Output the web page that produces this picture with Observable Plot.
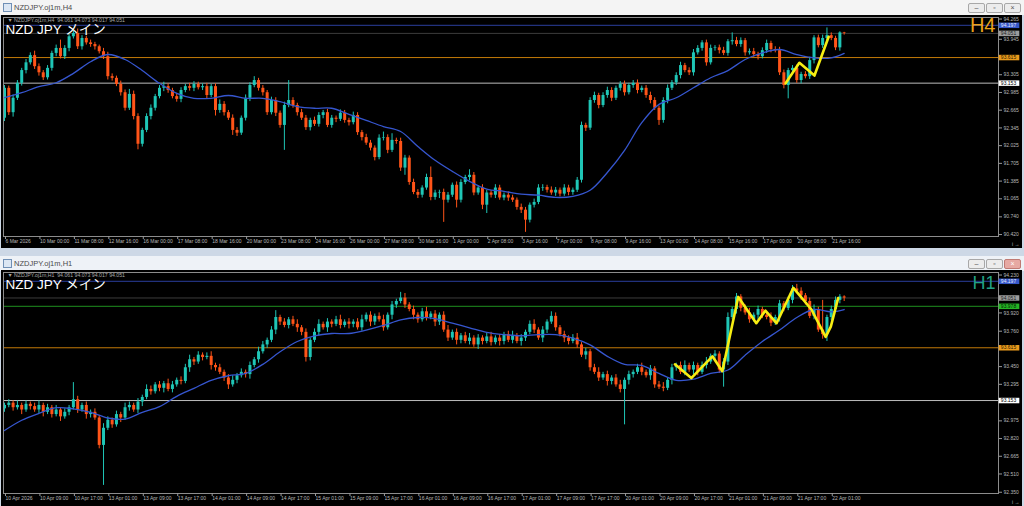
<!DOCTYPE html>
<html><head><meta charset="utf-8">
<script src="https://cdn.jsdelivr.net/npm/d3@7"></script>
<script src="https://cdn.jsdelivr.net/npm/@observablehq/plot@0.6"></script>
<style>
body{margin:0;background:#cdd8e6;}
#root{position:relative;width:1024px;height:506px;overflow:hidden;background:#cdd8e6;font-family:"Liberation Sans",Arial,sans-serif;}
.tbar{position:absolute;left:0;width:1024px;height:15px;}
.ttl{position:absolute;left:14px;top:3px;font-size:7.5px;color:#4a4a4a;white-space:nowrap;}
.ico{position:absolute;left:3px;top:3px;width:7px;height:7px;border:1px solid #6f8fb5;background:#dbe6f3;}
.btn{position:absolute;top:3px;width:15px;height:8px;border:1px solid #a8a8a8;border-radius:2px;background:#ececec;font-size:7px;line-height:8px;text-align:center;color:#555;}
.chart{position:absolute;left:1px;width:1021px;background:#000;}
</style></head>
<body><div id="root">
<div class="tbar" style="top:0;background:#f4f4f4;"><div class="ico"></div><div class="ttl">NZDJPY.oj1m,H4</div>
<div class="btn" style="left:968px">–</div><div class="btn" style="left:986px">▫</div><div class="btn" style="left:1004px">×</div></div>
<div class="chart" id="top" style="top:15px;height:233px;"></div>
<div class="tbar" style="top:256px;background:#eef2f7;"><div class="ico"></div><div class="ttl">NZDJPY.oj1m,H1</div>
<div class="btn" style="left:968px">–</div><div class="btn" style="left:986px">▫</div><div class="btn" style="left:1004px;background:#e7a9a3;border-color:#c07a74;color:#fff">×</div></div>
<div class="chart" id="bot" style="top:270px;height:236px;"></div>
</div>
<script>
// ---------- H4 panel data ----------
const h4Open0 = 92.52;
const h4Close = [
93.06,92.62,92.88,93.15,93.38,93.52,93.65,93.45,93.34,93.25,
93.42,93.69,93.78,93.63,93.78,93.99,94.05,93.81,93.96,93.88,
93.85,93.81,93.72,93.63,93.27,93.24,93.13,92.98,92.70,92.95,
92.55,92.05,92.30,92.55,92.70,92.91,93.06,93.09,93.02,92.91,
92.86,93.02,93.09,93.06,93.13,93.07,93.09,92.93,93.09,92.66,
92.77,92.62,92.52,92.30,92.25,92.52,92.88,93.11,93.20,93.06,
92.98,92.62,92.84,92.61,92.39,92.75,92.84,92.75,92.62,92.52,
92.35,92.48,92.41,92.57,92.62,92.39,92.52,92.50,92.61,92.48,
92.44,92.57,92.26,92.17,92.07,91.98,91.81,92.16,92.17,91.94,
92.12,92.10,91.62,91.80,91.36,91.18,91.13,91.26,91.45,91.09,
91.17,91.18,91.04,91.13,91.31,91.04,91.36,91.45,91.49,91.17,
91.26,90.95,91.17,91.13,91.26,91.08,91.13,91.08,91.04,90.91,
90.86,90.68,90.95,91.00,91.26,91.27,91.22,91.17,91.22,91.15,
91.26,91.18,91.22,91.40,92.39,92.34,92.84,92.93,92.75,92.93,
93.02,92.88,93.06,93.13,92.98,93.11,93.15,93.02,93.06,92.93,
92.84,92.70,92.48,92.84,93.06,93.16,93.29,93.47,93.38,93.34,
93.70,93.78,93.88,93.52,93.78,93.79,93.74,93.69,93.90,93.92,
93.85,93.92,93.70,93.72,93.67,93.63,93.74,93.87,93.76,93.74,
93.34,93.11,93.38,93.42,93.20,93.31,93.27,93.56,93.97,93.83,
93.96,94.01,93.96,93.79,94.06,94.05];
const h4UpperWick = [
.05,.04,.06,.05,.04,.06,.05,.08,.05,.04,
.05,.04,.06,.15,.05,.04,.04,.08,.05,.04,
.05,.04,.03,.06,.08,.05,.04,.06,.05,.09,
.06,.05,.04,.05,.06,.04,.05,.08,.05,.04,
.06,.05,.04,.06,.05,.04,.05,.06,.04,.05,
.08,.05,.04,.06,.05,.04,.06,.05,.07,.04,
.05,.04,.06,.05,.04,.06,.36,.05,.04,.06,
.05,.04,.06,.05,.04,.06,.05,.04,.06,.05,
.04,.06,.05,.04,.06,.05,.04,.06,.10,.05,
.12,.04,.06,.05,.04,.06,.05,.04,.06,.19,
.05,.04,.06,.05,.04,.06,.05,.04,.10,.05,
.04,.06,.05,.04,.06,.05,.04,.06,.05,.04,
.06,.05,.04,.06,.06,.05,.04,.06,.05,.04,
.06,.05,.04,.05,.06,.04,.05,.06,.04,.05,
.06,.05,.04,.05,.06,.04,.05,.06,.04,.05,
.06,.05,.04,.05,.06,.04,.05,.06,.04,.05,
.06,.05,.04,.05,.06,.04,.05,.06,.04,.14,
.06,.05,.04,.05,.06,.04,.05,.06,.04,.05,
.06,.05,.04,.05,.06,.04,.05,.06,.04,.05,
.06,.14,.05,.04,.02,.01];
const h4LowerWick = [
.06,.05,.08,.04,.05,.06,.04,.05,.06,.05,
.04,.05,.06,.04,.05,.06,.04,.05,.06,.04,
.05,.06,.04,.05,.06,.05,.04,.06,.05,.04,
.06,.10,.05,.04,.06,.05,.04,.06,.05,.04,
.05,.06,.04,.05,.06,.04,.05,.06,.04,.10,
.05,.06,.04,.09,.06,.04,.05,.06,.04,.05,
.06,.05,.04,.06,.05,.45,.04,.05,.06,.04,
.05,.06,.04,.05,.06,.04,.05,.06,.04,.05,
.06,.04,.05,.06,.04,.05,.06,.04,.05,.06,
.04,.05,.06,.13,.05,.04,.06,.05,.04,.06,
.05,.10,.40,.05,.04,.14,.05,.04,.06,.05,
.04,.08,.15,.05,.06,.04,.05,.06,.04,.05,
.06,.22,.05,.05,.04,.06,.05,.04,.06,.05,
.04,.06,.05,.04,.05,.06,.04,.05,.06,.04,
.05,.06,.04,.05,.06,.04,.05,.06,.04,.05,
.06,.04,.09,.05,.06,.04,.05,.06,.04,.05,
.06,.04,.05,.06,.04,.05,.06,.04,.05,.06,
.04,.05,.06,.04,.05,.06,.04,.05,.06,.04,
.05,.06,.24,.04,.05,.06,.04,.05,.06,.04,
.05,.06,.04,.05,.06,.03];
const h4MaIdx = [0,4,8,12,16,20,24,28,32,36,40,44,48,52,56,60,64,68,72,76,80,84,88,92,96,100,104,108,112,116,120,124,128,132,136,140,144,148,152,156,160,164,168,172,176,180,184,188,192,195];
const h4MaVal = [92.89,92.98,93.09,93.16,93.33,93.54,93.67,93.58,93.38,93.15,92.97,92.88,92.88,92.93,92.88,92.88,92.82,92.73,92.70,92.70,92.59,92.48,92.37,92.28,92.01,91.76,91.56,91.38,91.24,91.20,91.15,91.13,91.09,91.11,91.22,91.54,91.94,92.44,92.77,92.89,93.07,93.25,93.38,93.58,93.70,93.76,93.67,93.61,93.61,93.69];
const h4YellowIdx = [181.4,184.6,188.1,191.4];
const h4YellowVal = [93.15,93.52,93.29,93.99];
const h4TimeLabels = ["6 Mar 2026","10 Mar 00:00","11 Mar 08:00","12 Mar 16:00","16 Mar 00:00","17 Mar 08:00","18 Mar 16:00","20 Mar 00:00","23 Mar 08:00","24 Mar 16:00","26 Mar 00:00","27 Mar 08:00","30 Mar 16:00","1 Apr 00:00","2 Apr 08:00","3 Apr 16:00","7 Apr 00:00","8 Apr 08:00","9 Apr 16:00","13 Apr 00:00","14 Apr 08:00","15 Apr 16:00","17 Apr 00:00","20 Apr 08:00","21 Apr 16:00"];
const h4PriceTicks = [90.420,90.740,91.065,91.385,91.705,92.025,92.345,92.665,92.985,93.305,93.945];
const h4TopTick = [94.265];
const h4LevelPrice = [94.197,94.051,93.615,93.153];
const h4LevelLine = ["#2b3f9e","#3c3c3c","#c47a08","#bdbdbd"];
const h4LevelBox = ["#3557c9","#9c9c9c","#e99a1c","#ffffff"];
const h4LevelText = ["#e8ecff","#202020","#2a1a00","#000000"];

// ---------- H1 panel data ----------
const h1Open0 = 93.08;
const h1Close = [
93.11,93.13,93.09,93.11,93.07,93.12,93.10,93.07,93.11,93.05,
93.09,93.03,93.07,93.01,93.05,93.09,93.16,93.07,93.11,93.03,
93.05,93.00,92.76,92.91,92.98,92.94,93.03,93.00,93.09,93.11,
93.07,93.14,93.18,93.25,93.23,93.29,93.26,93.30,93.25,93.29,
93.33,93.32,93.44,93.51,93.49,93.55,93.53,93.54,93.46,93.44,
93.40,93.35,93.29,93.33,93.37,93.40,93.38,93.46,93.51,93.58,
93.64,93.68,93.77,93.88,93.84,93.81,93.86,93.82,93.79,93.75,
93.53,93.68,93.75,93.82,93.79,93.84,93.82,93.86,93.81,93.84,
93.82,93.84,93.79,93.86,93.90,93.84,93.89,93.86,93.79,93.90,
93.99,94.02,94.05,93.99,93.95,93.90,93.86,93.93,93.88,93.91,
93.84,93.90,93.77,93.70,93.75,93.68,93.72,93.67,93.70,93.64,
93.70,93.67,93.71,93.66,93.70,93.67,93.73,93.68,93.72,93.67,
93.70,93.75,93.82,93.77,93.70,93.77,93.84,93.89,93.79,93.73,
93.70,93.67,93.70,93.64,93.55,93.58,93.44,93.40,93.35,93.38,
93.32,93.35,93.29,93.25,93.33,93.38,93.40,93.44,93.40,93.37,
93.43,93.29,93.27,93.26,93.33,93.44,93.46,93.40,93.46,93.42,
93.46,93.40,93.46,93.49,93.54,93.56,93.42,93.49,93.88,93.95,
94.06,93.96,93.92,93.86,93.90,93.95,93.90,93.88,93.83,93.88,
94.00,93.96,94.03,94.13,94.11,94.07,94.02,93.89,93.95,93.77,
93.73,93.88,93.95,94.03,94.06,94.05];
const h1UpperWick = [
.02,.03,.02,.04,.02,.03,.02,.03,.04,.02,
.03,.02,.04,.02,.03,.02,.15,.03,.02,.03,
.02,.03,.02,.04,.03,.02,.03,.02,.04,.03,
.02,.03,.02,.04,.03,.02,.03,.02,.04,.03,
.02,.03,.03,.04,.02,.03,.02,.03,.04,.02,
.03,.02,.03,.04,.02,.03,.02,.03,.02,.04,
.03,.02,.03,.06,.02,.03,.02,.03,.04,.02,
.03,.02,.03,.04,.02,.03,.02,.03,.04,.02,
.03,.02,.03,.04,.02,.03,.02,.03,.04,.02,
.03,.02,.05,.04,.02,.03,.02,.03,.04,.02,
.03,.02,.03,.04,.02,.03,.02,.03,.04,.02,
.03,.02,.03,.04,.02,.03,.02,.03,.04,.02,
.03,.02,.03,.04,.02,.03,.02,.04,.03,.02,
.03,.02,.03,.04,.02,.03,.02,.03,.04,.02,
.03,.02,.03,.04,.02,.03,.02,.03,.04,.02,
.03,.02,.03,.04,.02,.03,.02,.03,.04,.02,
.03,.02,.03,.04,.02,.03,.02,.03,.04,.02,
.03,.02,.03,.04,.02,.03,.02,.03,.04,.02,
.03,.02,.03,.03,.04,.03,.02,.03,.04,.02,
.26,.02,.03,.03,.02,.01];
const h1LowerWick = [
.03,.02,.03,.02,.04,.02,.03,.02,.03,.04,
.02,.03,.02,.04,.02,.03,.02,.03,.02,.04,
.03,.02,.03,.35,.02,.03,.02,.04,.02,.03,
.02,.03,.04,.02,.03,.02,.03,.04,.02,.03,
.02,.03,.02,.04,.03,.02,.03,.02,.04,.03,
.02,.03,.04,.02,.03,.02,.03,.04,.02,.03,
.02,.03,.02,.04,.03,.02,.03,.02,.04,.03,
.04,.03,.02,.03,.02,.04,.03,.02,.03,.02,
.04,.03,.02,.03,.02,.04,.03,.02,.03,.02,
.04,.03,.02,.03,.02,.04,.03,.02,.03,.02,
.04,.03,.02,.03,.02,.04,.03,.02,.03,.02,
.04,.03,.02,.03,.02,.04,.03,.02,.03,.02,
.04,.03,.02,.03,.02,.04,.03,.02,.03,.02,
.04,.03,.02,.03,.02,.04,.03,.02,.03,.02,
.04,.03,.02,.03,.31,.04,.03,.02,.03,.02,
.04,.03,.02,.03,.02,.04,.03,.02,.03,.02,
.04,.03,.02,.03,.02,.04,.03,.15,.03,.02,
.04,.03,.02,.03,.02,.04,.03,.02,.03,.02,
.04,.03,.02,.03,.02,.04,.03,.02,.03,.02,
.04,.06,.03,.02,.03,.03];
const h1MaIdx = [0,4,8,12,16,20,24,28,32,36,40,44,48,52,56,60,64,68,72,76,80,84,88,92,96,100,104,108,112,116,120,124,128,132,136,140,144,148,152,156,160,164,168,172,176,180,184,188,192,195];
const h1MaVal = [92.89,92.98,93.04,93.09,93.08,93.05,93.00,92.99,93.05,93.10,93.19,93.26,93.33,93.37,93.39,93.47,93.58,93.67,93.72,93.74,93.74,93.77,93.81,93.86,93.88,93.87,93.83,93.79,93.75,93.73,93.72,93.73,93.73,93.70,93.64,93.54,93.47,93.46,93.39,93.33,93.34,93.39,93.42,93.55,93.67,93.77,93.88,93.95,93.93,93.95];
const h1YellowIdx = [155.7,159.5,164.4,166.7,170.4,174.6,176.7,179.3,183.2,187.4,190.7,191.9,193.6];
const h1YellowVal = [93.47,93.35,93.54,93.41,94.06,93.83,93.94,93.83,94.14,93.95,93.71,93.80,94.05];
const h1TimeLabels = ["10 Apr 2026","10 Apr 09:00","10 Apr 17:00","13 Apr 01:00","13 Apr 09:00","13 Apr 17:00","14 Apr 01:00","14 Apr 09:00","14 Apr 17:00","15 Apr 01:00","15 Apr 09:00","15 Apr 17:00","16 Apr 01:00","16 Apr 09:00","16 Apr 17:00","17 Apr 01:00","17 Apr 09:00","17 Apr 17:00","20 Apr 01:00","20 Apr 09:00","20 Apr 17:00","21 Apr 01:00","21 Apr 09:00","21 Apr 17:00","22 Apr 01:00"];
const h1PriceTicks = [92.350,92.510,92.665,92.820,92.975,93.295,93.450,93.760,93.920];
const h1TopTick = [94.230];
const h1LevelPrice = [94.197,94.051,93.978,93.615,93.153];
const h1LevelLine = ["#2b3f9e","#3c3c3c","#1f8f1f","#c47a08","#bdbdbd"];
const h1LevelBox = ["#3557c9","#9c9c9c","#25b425","#e99a1c","#ffffff"];
const h1LevelText = ["#e8ecff","#202020","#002000","#2a1a00","#000000"];

const BULL = "#1fc6b6", BEAR = "#ff5418";
const fmt = d3.format(".3f");

function panel(o) {
  const rows = o.close.map((c, i) => {
    const op = i === 0 ? o.open0 : o.close[i - 1];
    return {i, o: op, c, h: Math.max(op, c) + o.upperWick[i], l: Math.min(op, c) - o.lowerWick[i]};
  });
  const up = rows.filter(d => d.c >= d.o), dn = rows.filter(d => d.c < d.o);
  const ma = o.maIdx.map((i, k) => ({i, v: o.maVal[k]}));
  const yl = o.yellowIdx.map((i, k) => ({i, v: o.yellowVal[k]}));
  const tickIdx = o.timeLabels.map((_, k) => k * 8);
  const labelOf = new Map(tickIdx.map((t, k) => [t, o.timeLabels[k]]));
  const x0 = -0.23, x1 = x0 + 231.07;
  const axisStyle = {fontSize: 5, stroke: "#9a9a9a", fill: "#b8b8b8"};
  const marks = [];
  o.levelPrice.forEach((p, k) => marks.push(Plot.ruleY([p], {stroke: o.levelLine[k], strokeWidth: 1})));
  marks.push(
    Plot.ruleX(up, {x: "i", y1: "l", y2: "h", stroke: BULL, strokeWidth: 1}),
    Plot.ruleX(dn, {x: "i", y1: "l", y2: "h", stroke: BEAR, strokeWidth: 1}),
    Plot.ruleX(up, {x: "i", y1: "o", y2: "c", stroke: BULL, strokeWidth: 3}),
    Plot.ruleX(dn, {x: "i", y1: "o", y2: "c", stroke: BEAR, strokeWidth: 3}),
    Plot.line(ma, {x: "i", y: "v", stroke: "#3656cf", strokeWidth: 1.3, curve: "catmull-rom"}),
    Plot.line(yl, {x: "i", y: "v", stroke: "#f7ee12", strokeWidth: 2.6, strokeLinejoin: "round", strokeLinecap: "round"}),
    Plot.frame({stroke: "#8c8c8c"}),
    Plot.axisX({anchor: "bottom", ticks: tickIdx, tickFormat: d => labelOf.get(d), tickSize: 3, tickPadding: 0, textAnchor: "start", dx: 1, ...axisStyle}),
    Plot.axisY({anchor: "right", ticks: o.priceTicks, tickFormat: fmt, tickSize: 3, tickPadding: 2, ...axisStyle}),
    Plot.axisY({anchor: "right", ticks: o.topTick, tickFormat: fmt, tickSize: 3, tickPadding: 2, dy: -2.5, ...axisStyle})
  );
  o.levelPrice.forEach((p, k) => marks.push(
    Plot.ruleY([p], {x1: x1 + 0.15, x2: x1 + 4.95, stroke: o.levelBox[k], strokeWidth: 5.5}),
    Plot.text([p], {y: d => d, x: x1 + 0.55, text: d => fmt(d), textAnchor: "start", fill: o.levelText[k], fontSize: 5})
  ));
  marks.push(
    Plot.text([o.header], {frameAnchor: "top-left", dx: 4, dy: 0.5, lineAnchor: "top", fill: "#a8a8a8", fontSize: 5.2}),
    Plot.text(["NZD JPY メイン"], {frameAnchor: "top-left", dx: 2, dy: 7, lineAnchor: "top", fill: "#ffffff", fontSize: 13.5}),
    Plot.text([o.tf], {frameAnchor: "top-right", dx: -3, dy: o.tfDy, lineAnchor: "top", textAnchor: "end", fill: o.tfColor, fontSize: o.tfSize})
  );
  return Plot.plot({
    width: 1021, height: o.height,
    marginLeft: 2, marginRight: 24, marginTop: 2, marginBottom: o.marginBottom,
    style: {background: "#000", color: "#b8b8b8", fontFamily: "'Liberation Sans','Noto Sans CJK JP',sans-serif", overflow: "visible"},
    x: {type: "linear", domain: [x0, x1]},
    y: {type: "linear", domain: o.yDomain},
    marks
  });
}

document.getElementById("top").append(panel({
  open0: h4Open0, close: h4Close, upperWick: h4UpperWick, lowerWick: h4LowerWick,
  maIdx: h4MaIdx, maVal: h4MaVal, yellowIdx: h4YellowIdx, yellowVal: h4YellowVal,
  timeLabels: h4TimeLabels, priceTicks: h4PriceTicks, topTick: h4TopTick,
  levelPrice: h4LevelPrice, levelLine: h4LevelLine, levelBox: h4LevelBox, levelText: h4LevelText,
  header: "▼ NZDJPY.oj1m,H4  94.061 94.073 94.017 94.051",
  tf: "H4", tfColor: "#eaa21a", tfSize: 20, tfDy: 0,
  height: 233, marginBottom: 12, yDomain: [90.385, 94.338]
}));
document.getElementById("bot").append(panel({
  open0: h1Open0, close: h1Close, upperWick: h1UpperWick, lowerWick: h1LowerWick,
  maIdx: h1MaIdx, maVal: h1MaVal, yellowIdx: h1YellowIdx, yellowVal: h1YellowVal,
  timeLabels: h1TimeLabels, priceTicks: h1PriceTicks, topTick: h1TopTick,
  levelPrice: h1LevelPrice, levelLine: h1LevelLine, levelBox: h1LevelBox, levelText: h1LevelText,
  header: "▼ NZDJPY.oj1m,H1  94.061 94.073 94.017 94.051",
  tf: "H1", tfColor: "#22a085", tfSize: 18, tfDy: 4,
  height: 236, marginBottom: 13, yDomain: [92.339, 94.274]
}));
</script>
</body></html>
